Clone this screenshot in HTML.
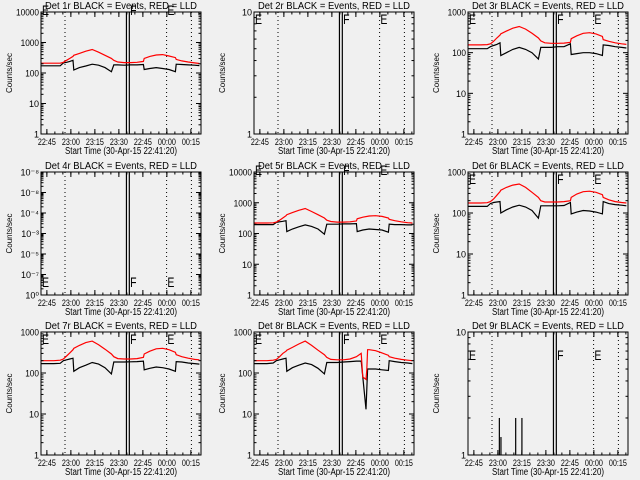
<!DOCTYPE html>
<html><head><meta charset="utf-8"><style>
html,body{margin:0;padding:0;background:#f0f0f0;}
svg{display:block;font-family:"Liberation Sans",sans-serif;}
</style></head><body>
<svg id="chart" width="640" height="480" viewBox="0 0 640 480" xmlns="http://www.w3.org/2000/svg">
<rect width="640" height="480" fill="#f0f0f0"/>
</svg>
<script>
// time axis: minutes after 22:41:20
const xTickLabels = ["22:45","23:00","23:15","23:30","22:45","00:00","00:15"];
const xTickTimes = [3.67,18.67,33.67,48.67,63.67,78.67,93.67];
const dottedTimes = [15, 78.5, 94];
const doubleLineTimes = [53.4, 55.2];
const T = [0,4,8,12,14,16,18,20,20.5,24,28,32,36,40,44,45.5,48,52,56,60,64,64.5,68,72,76,80,84,84.5,88,92,96,99];
const red1 = [210,210,210,210,225,260,300,350,380,440,520,590,480,380,300,260,230,220,220,225,240,300,350,390,400,360,320,280,250,230,215,205];
const black1 = [172,172,172,172,215,225,240,260,125,150,170,195,180,150,110,185,185,180,185,185,190,130,140,150,140,130,110,195,190,185,180,175];
const red3 = [155,155,155,158,165,190,230,270,290,340,400,440,380,300,230,195,175,170,170,172,180,220,260,300,310,290,250,210,190,175,165,160];
const black3 = [125,125,125,125,140,150,160,175,85,100,120,135,120,100,70,135,135,135,140,140,165,90,95,100,100,95,85,155,150,140,135,130];
const red5 = [220,220,220,222,235,270,320,380,410,480,570,650,520,410,320,270,245,235,235,240,255,300,340,370,380,360,320,290,260,240,225,220];
const black5 = [195,195,195,195,230,240,250,260,115,140,165,190,170,140,95,200,200,200,205,205,210,115,130,140,135,130,110,200,195,195,190,190];
const red6 = [175,175,175,178,190,220,270,330,360,420,480,510,420,320,240,200,185,185,185,190,200,240,290,330,340,320,280,240,210,190,180,175];
const black6 = [145,145,145,145,170,180,185,190,100,120,140,155,140,115,75,150,150,150,150,152,180,95,105,115,112,105,95,190,170,160,155,150];
const red7 = [200,200,200,205,220,260,310,370,400,470,550,600,490,380,290,250,225,220,220,225,240,290,340,390,400,370,320,280,250,230,215,210];
const black7 = [170,170,170,172,200,210,220,230,110,135,155,180,165,135,95,185,185,185,188,190,195,120,130,140,135,125,110,190,185,175,170,165];
const T8 = [0,4,8,12,14,16,18,20,20.5,24,28,32,36,40,44,45.5,48,52,56,60,64,67,68,70,70.5,71,72,76,80,84,84.5,88,92,96,99];
const red8 = [200,200,200,205,215,250,300,340,360,420,510,600,470,360,280,240,215,210,210,220,250,300,80,70,120,370,370,350,310,270,250,230,215,205,200];
const black8 = [170,170,170,175,200,210,220,230,110,135,155,175,160,130,95,180,180,180,185,190,195,195,80,13,40,125,125,125,120,115,200,190,180,175,170];
const spikeTimes9 = [19.6,20.6,29.8,33.7];
const spikeVals9 = [2,1.4,2,2];

const NS = "http://www.w3.org/2000/svg";
const svg = document.getElementById("chart");
function mk(tag, attrs, parent){const e=document.createElementNS(NS,tag);for(const k in attrs)e.setAttribute(k,attrs[k]);(parent||svg).appendChild(e);return e;}

const colX = [41,254,468];
const rowY = [[12,134],[172,295],[332,455]];
const W = 160;
const panels = [
 {n:1,lo:0,hi:4,red:red1,black:black1,t:T,eY:4,lab:["1","10","100","1000","10000"]},
 {n:2,lo:0,hi:1,eY:13,lab:["1","10"]},
 {n:3,lo:0,hi:3,red:red3,black:black3,t:T,eY:13,lab:["1","10","100","1000"]},
 {n:4,lo:0,hi:6,eY:276,special:true},
 {n:5,lo:0,hi:4,red:red5,black:black5,t:T,eY:164,lab:["1","10","100","1000","10000"]},
 {n:6,lo:0,hi:3,red:red6,black:black6,t:T,eY:173,lab:["1","10","100","1000"]},
 {n:7,lo:0,hi:3,red:red7,black:black7,t:T,eY:333,lab:["1","10","100","1000"]},
 {n:8,lo:0,hi:3,red:red8,black:black8,t:T8,eY:333,lab:["1","10","100","1000"]},
 {n:9,lo:0,hi:1,eY:349,lab:["1","10"],spikes:true}
];
const specialLabels=["10\u2070","10\u207B\u2077","10\u207B\u2075","10\u207B\u00B3","10\u207B\u2074","10\u207B\u2078","10\u207B\u2078"];

panels.forEach((p,i)=>{
  const x0=colX[i%3], y0=rowY[Math.floor(i/3)][0], y1=rowY[Math.floor(i/3)][1], H=y1-y0;
  const g=mk("g",{});
  
  
  const xs=t=>x0+t/100*W;
  const ys=v=>y1-(Math.log10(v)-p.lo)/(p.hi-p.lo)*H;
  const title=mk("text",{x:x0+W/2,y:y0-3,"text-anchor":"middle","font-size":"10",fill:"#000",textLength:"152",lengthAdjust:"spacingAndGlyphs"},g);
  title.textContent="Det "+p.n+"r BLACK = Events, RED = LLD";
  
  
  dottedTimes.forEach(t=>{const l=mk("line",{x1:xs(t),x2:xs(t),y1:y0,y2:y1,stroke:"#000","stroke-dasharray":"1,3"},g);
    
    });
  doubleLineTimes.forEach(t=>{const l=mk("line",{x1:xs(t),x2:xs(t),y1:y0,y2:y1,stroke:"#000","stroke-width":"1.2"},g);
    
    });
  [["E",0.6],["F",doubleLineTimes[1]+0.5],["E",79]].forEach(m=>{
    const mx=xs(m[1]);
    const tx=mk("text",{x:0,y:0,"font-size":"14",fill:"#000",transform:"translate("+mx+","+(p.eY+11)+") scale(0.75,1)"},g);
    tx.textContent=m[0];
    
    
  });
  if(p.red){
    [[p.black,"#000","black-events-line"],[p.red,"#ff0000","red-lld-line"]].forEach(s=>{
      let pts=[];
      for(let k=0;k<p.t.length;k++){pts.push(xs(p.t[k]).toFixed(1)+","+ys(s[0][k]).toFixed(1));}
      const pl=mk("polyline",{points:pts.join(" "),fill:"none",stroke:s[1],"stroke-width":"1.2"},g);
      
      
    });
  }
  if(p.spikes){
    spikeTimes9.forEach((t,k)=>{const l=mk("line",{x1:xs(t),x2:xs(t),y1:y1,y2:ys(spikeVals9[k]),stroke:"#000","stroke-width":"1.2"},g);
      
      });
  }
  const fr=mk("rect",{x:x0,y:y0,width:W,height:H,fill:"none",stroke:"#000","stroke-width":"1"},g);
  
  
  for(let d=p.lo; d<=p.hi; d++){
    const y=ys(Math.pow(10,d));
    mk("line",{x1:x0,x2:x0+5,y1:y,y2:y,stroke:"#000"},g);
    mk("line",{x1:x0+W,x2:x0+W-5,y1:y,y2:y,stroke:"#000"},g);
    const lab=p.special?specialLabels[d]:p.lab[d];
    const attrs={x:x0-2,y:y+3.5,"text-anchor":"end","font-size":"9",fill:"#000"};
    if(lab.length>=3&&!p.special){attrs.textLength=String(lab.length*4.6);attrs.lengthAdjust="spacingAndGlyphs";}
    const lt=mk("text",attrs,g);
    lt.textContent=lab;
    
    
    if(d<p.hi){for(let m=2;m<10;m++){const ym=ys(m*Math.pow(10,d));
      mk("line",{x1:x0,x2:x0+2.5,y1:ym,y2:ym,stroke:"#000"},g);
      mk("line",{x1:x0+W,x2:x0+W-2.5,y1:ym,y2:ym,stroke:"#000"},g);}}
  }
  xTickTimes.forEach((t,k)=>{
    const x=xs(t);
    mk("line",{x1:x,x2:x,y1:y1,y2:y1-5,stroke:"#000"},g);
    mk("line",{x1:x,x2:x,y1:y0,y2:y0+5,stroke:"#000"},g);
    const lt=mk("text",{x:x,y:y1+11,"text-anchor":"middle","font-size":"9",fill:"#000",textLength:"18",lengthAdjust:"spacingAndGlyphs"},g);
    lt.textContent=xTickLabels[k];
    
    
  });
  for(let t=3.67;t<100;t+=5){const x=xs(t);
    mk("line",{x1:x,x2:x,y1:y1,y2:y1-2.5,stroke:"#000"},g);
    mk("line",{x1:x,x2:x,y1:y0,y2:y0+2.5,stroke:"#000"},g);}
  const xt=mk("text",{x:x0+W/2,y:y1+20,"text-anchor":"middle","font-size":"10",fill:"#000",textLength:"112",lengthAdjust:"spacingAndGlyphs"},g);
  xt.textContent="Start Time (30-Apr-15 22:41:20)";
  
  
  const yt=mk("text",{x:0,y:0,"text-anchor":"middle","font-size":"8",fill:"#000",transform:"translate("+(x0-29)+","+(y0+H/2)+") rotate(-90)"},g);
  yt.textContent="Counts/sec";
  
  
});
</script>
</body></html>
